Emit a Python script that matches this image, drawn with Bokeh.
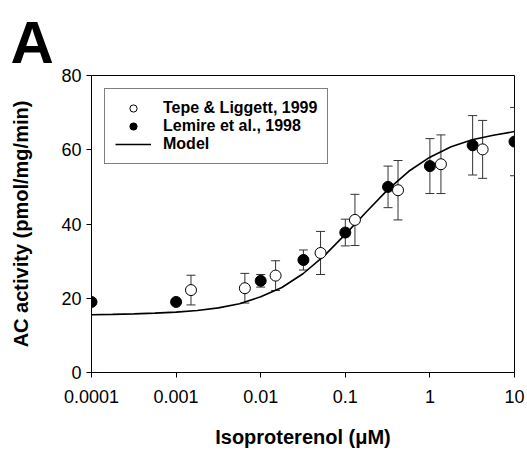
from bokeh.plotting import figure
from bokeh.models import (ColumnDataSource, Whisker, TeeHead, Legend, LegendItem,
                          FixedTicker, Range1d)
from bokeh.embed import file_html
from bokeh.resources import INLINE

# ---- data ----
tepe_x = [0.0015, 0.0065, 0.015, 0.051, 0.13, 0.42, 1.35, 4.2]
tepe_y = [22.2, 22.7, 26.1, 32.2, 41.1, 49.1, 56.1, 60.1]
tepe_err = [4.0, 4.0, 4.0, 5.8, 6.9, 8.0, 7.9, 7.8]

lemire_x = [0.0001, 0.001, 0.01, 0.032, 0.1, 0.32, 1.0, 3.2, 10.0]
lemire_y = [19.0, 19.0, 24.7, 30.3, 37.7, 50.0, 55.6, 61.2, 62.2]
lemire_err = [0.0, 0.0, 1.7, 2.7, 3.6, 5.6, 7.4, 8.0, 9.2]

model_x = [0.0001, 0.000178, 0.000316, 0.000562, 0.001, 0.00178, 0.00316,
           0.00562, 0.01, 0.0178, 0.0316, 0.0562, 0.1, 0.178, 0.316, 0.562,
           1.0, 1.78, 3.16, 5.62, 10.0]
model_y = [15.55, 15.65, 15.8, 16.0, 16.25, 16.7, 17.4, 18.5, 20.4, 22.9,
           26.6, 31.4, 37.2, 43.3, 49.2, 54.2, 58.0, 60.8, 62.7, 63.9, 64.9]

x_ticks = [0.0001, 0.001, 0.01, 0.1, 1, 10]
x_tick_labels = ["0.0001", "0.001", "0.01", "0.1", "1", "10"]
y_ticks = [0, 20, 40, 60, 80]

series_names = ["Tepe & Liggett, 1999", "Lemire et al., 1998", "Model"]
panel_letter = "A"
x_title = "Isoproterenol (\u03bcM)"
y_title = "AC activity (pmol/mg/min)"

FONT = "Liberation Sans"

p = figure(width=527, height=461, output_backend="svg", toolbar_location=None,
           x_axis_type="log", x_range=Range1d(1e-4, 10), y_range=Range1d(0, 80),
           min_border_left=91, min_border_right=13, min_border_top=75,
           min_border_bottom=89, title=panel_letter)

p.title.text_font = FONT
p.title.text_font_size = "60px"
p.title.text_font_style = "bold"
p.title.text_line_height = 0.6
p.title.align = "left"
p.title.offset = -81
p.title.standoff = 0
p.title.text_color = "black"

p.grid.grid_line_color = None
p.outline_line_color = "black"
p.outline_line_width = 1
p.background_fill_color = "white"
p.border_fill_color = "white"

for ax in (p.xaxis[0], p.yaxis[0]):
    ax.axis_line_color = "black"
    ax.major_tick_line_color = "black"
    ax.major_tick_in = 0
    ax.major_tick_out = 5
    ax.minor_tick_line_color = None
    ax.major_label_text_font = FONT
    ax.major_label_text_font_size = "18px"
    ax.major_label_text_color = "black"
    ax.axis_label_text_font = FONT
    ax.axis_label_text_font_size = "20px"
    ax.axis_label_text_font_style = "bold"
    ax.axis_label_text_color = "black"

p.xaxis.ticker = FixedTicker(ticks=x_ticks)
p.xaxis.major_label_overrides = dict(zip(x_ticks, x_tick_labels))
p.xaxis.major_label_standoff = 12
p.xaxis.axis_label = x_title
p.xaxis.axis_label_standoff = 20

p.yaxis.ticker = FixedTicker(ticks=y_ticks)
p.yaxis.major_label_standoff = 5
p.yaxis.axis_label = y_title
p.yaxis.axis_label_standoff = 26

# model line
model_src = ColumnDataSource(dict(x=model_x, y=model_y))
r_model = p.line("x", "y", source=model_src, line_color="black", line_width=1.6)

# error bars
tepe_src = ColumnDataSource(dict(x=tepe_x, y=tepe_y,
                                 lo=[v - e for v, e in zip(tepe_y, tepe_err)],
                                 hi=[v + e for v, e in zip(tepe_y, tepe_err)]))
lem_src = ColumnDataSource(dict(x=lemire_x, y=lemire_y,
                                lo=[v - e for v, e in zip(lemire_y, lemire_err)],
                                hi=[v + e for v, e in zip(lemire_y, lemire_err)]))
for src in (tepe_src, lem_src):
    w = Whisker(source=src, base="x", lower="lo", upper="hi", dimension="height",
                line_color="#333333", line_width=1,
                upper_head=TeeHead(size=9, line_color="#333333", line_width=1),
                lower_head=TeeHead(size=9, line_color="#333333", line_width=1))
    p.add_layout(w)

r_lem = p.scatter("x", "y", source=lem_src, size=11, marker="circle",
                  fill_color="black", line_color="black")
r_tepe = p.scatter("x", "y", source=tepe_src, size=11, marker="circle",
                   fill_color="white", line_color="black", line_width=1)

legend = Legend(items=[LegendItem(label=series_names[0], renderers=[r_tepe]),
                       LegendItem(label=series_names[1], renderers=[r_lem]),
                       LegendItem(label=series_names[2], renderers=[r_model])],
                location="top_left")
legend.margin = 13
legend.padding = 10
legend.spacing = 0
legend.glyph_width = 36
legend.glyph_height = 18
legend.label_height = 18
legend.label_standoff = 12
legend.label_text_font = FONT
legend.label_text_font_size = "16px"
legend.label_text_font_style = "bold"
legend.label_text_color = "black"
legend.border_line_color = "black"
legend.border_line_width = 1
legend.background_fill_alpha = 1
p.add_layout(legend, "center")

open("out.html", "w").write(file_html(p, INLINE))
